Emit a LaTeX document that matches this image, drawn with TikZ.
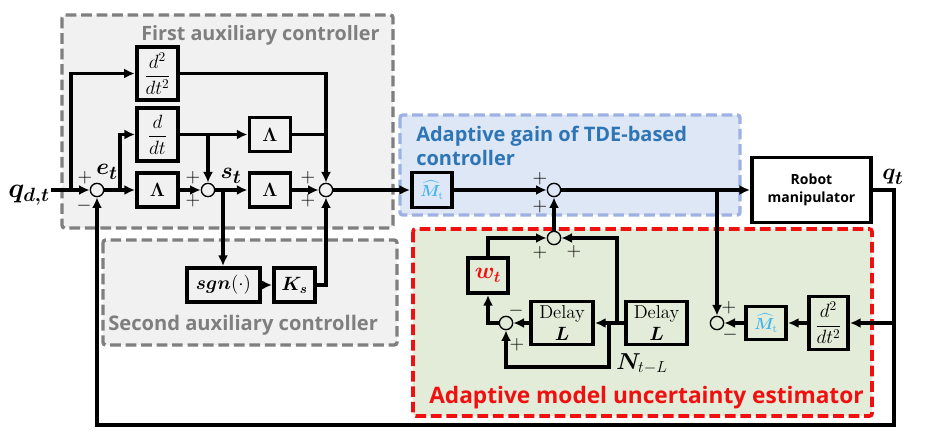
\documentclass[tikz,border=0pt]{standalone}
\usepackage{amsmath,bm}
\usepackage{fontspec}
\newfontfamily\lblfont{Open Sans}
\usetikzlibrary{arrows.meta}
\tikzset{
  x=0.75pt,y=-0.75pt,
  panel/.style={line width=2.5pt,dash pattern=on 8pt off 3.6pt,rounded corners=2pt},
  blockbox/.style 2 args={draw=black,fill=none,line width=2.9pt,inner sep=0pt,minimum width=#1*0.75pt,minimum height=#2*0.75pt,align=center},
  sumnode/.style={circle,draw=black,line width=1pt,minimum size=10pt,inner sep=0pt},
  wire/.style={line width=2.5pt,draw=black},
  arr/.style={wire,-{Latex[length=8pt,width=7.5pt]}},
  sgn/.style={inner sep=0pt,font=\fontsize{15}{15}\selectfont},
  title/.style={inner sep=0pt,anchor=west,font=\lblfont\bfseries\fontsize{14.8}{17}\selectfont},
  mathlbl/.style={inner sep=0pt},
  biglbl/.style={inner sep=0pt,font=\fontsize{19}{19}\selectfont},
  delaytext/.style={font=\fontsize{14}{15.5}\selectfont}
}
\definecolor{greyfill}{HTML}{F1F1F1}
\definecolor{greyline}{HTML}{7F7F7F}
\definecolor{bluefill}{HTML}{DEE7F5}
\definecolor{blueline}{HTML}{9DB2E2}
\definecolor{bluetext}{HTML}{2E75B6}
\definecolor{greenfill}{HTML}{E3ECD8}
\definecolor{redline}{HTML}{F01010}
\definecolor{mtext}{HTML}{3FB4EE}
\newcommand{\Mhat}{\textcolor{mtext}{\large$\widehat{\bm{M}}_{\mathrm{t}}$}}
\newcommand{\dsq}{\fontsize{14.5}{15}\selectfont$\dfrac{d^2}{dt^2}$}
\begin{document}
\begin{tikzpicture}
\useasboundingbox (0,0) rectangle (936,438);
% panels
\fill[white] (0,0) rectangle (936,438);
\path[panel,draw=greyline,fill=greyfill] (62,15) rectangle (393,228);
\path[panel,draw=greyline,fill=greyfill] (103,240) rectangle (397,345);
\path[panel,draw=blueline,fill=bluefill] (400,115) rectangle (740,215);
\path[panel,draw=redline,fill=greenfill,line width=2.8pt] (413,229) rectangle (872,416);
% titles
\node[title,text=greyline] (t1) at (141,35) {First auxiliary controller};
\node[title,text=greyline,font=\lblfont\bfseries\fontsize{15.1}{17}\selectfont] (t2) at (108,325) {Second auxiliary controller};
\node[title,text=bluetext,align=left,font=\lblfont\bfseries\fontsize{15}{18}\selectfont] (t3) at (416,146) {Adaptive gain of TDE-based\\controller};
\node[title,text=redline,font=\lblfont\bfseries\fontsize{17}{20}\selectfont] (t4) at (429,398) {Adaptive model uncertainty estimator};
% blocks
\node[blockbox={41}{53},line width=3.3pt] (dd) at (157.5,73.5) {\dsq};
\node[blockbox={41}{53}] (d) at (157.5,134.5) {\fontsize{14.5}{15}\selectfont$\dfrac{d}{dt}$};
\node[blockbox={41}{34}] (L1) at (157.5,190) {\Large$\bm{\Lambda}$};
\node[blockbox={41}{34}] (L2) at (270,134.5) {\Large$\bm{\Lambda}$};
\node[blockbox={41}{34}] (L3) at (270,190) {\Large$\bm{\Lambda}$};
\node[blockbox={73}{34}] (sg) at (223.5,285) {\Large$\bm{sgn}(\cdot)$};
\node[blockbox={41}{34}] (ks) at (294.5,285) {\Large$\bm{K_s}$};
\node[blockbox={40}{35}] (m1) at (432,190) {\Mhat};
\node[blockbox={119}{65},font=\lblfont\bfseries\fontsize{10.5}{13.5}\selectfont] (rb) at (811.5,190) {Robot\\manipulator};
\node[blockbox={40}{35},font=\LARGE] (wt) at (488,275.5) {\textcolor{redline}{$\bm{w_t}$}};
\node[blockbox={62}{43},delaytext] (dl1) at (562,323) {Delay\\[1pt]$\bm{L}$};
\node[blockbox={61}{43},delaytext] (dl2) at (656.5,323) {Delay\\[1pt]$\bm{L}$};
\node[blockbox={40}{33}] (m2) at (766,323) {\Mhat};
\node[blockbox={39}{53}] (dd2) at (828.5,323) {\dsq};
% summing junctions
\node[sumnode] (se) at (97,190) {};
\node[sumnode] (ss) at (208,190) {};
\node[sumnode] (sa) at (326,190) {};
\node[sumnode] (sb) at (554,190) {};
\node[sumnode] (sc) at (554,238) {};
\node[sumnode] (sd) at (506,323) {};
\node[sumnode] (sf) at (717,323) {};
% branch and free points
\coordinate (qin) at (51,190);
\coordinate (b1) at (71,190);
\coordinate (b2) at (120,190);
\coordinate (b3) at (208,134.5);
\coordinate (b4) at (326,134.5);
\coordinate (b5) at (223,190);
\coordinate (b6) at (717,190);
\coordinate (b7) at (894,190);
\coordinate (b8) at (894,323);
\coordinate (b9) at (617,323);
\coordinate (b10) at (609,323);
\coordinate (b11) at (97,425);
\coordinate (b12) at (506,367);
% wires
\draw[arr] (qin) -- (se);
\draw[arr] (b1) |- (dd.west);
\draw[arr] (b2) |- (d.west);
\draw[arr] (se) -- (L1);
\draw[arr] (L1) -- (ss);
\draw[arr] (ss) -- (L3);
\draw[arr] (L3) -- (sa);
\draw[arr] (d) -- (L2);
\draw[arr] (b3) -- (ss);
\draw[wire] (L2) -- (b4);
\draw[arr] (dd.east) -| (sa);
\draw[arr] (b5) -- (sg.north -| b5);
\draw[arr] (sg) -- (ks);
\draw[arr] (ks.east) -| (sa);
\draw[arr] (sa) -- (m1);
\draw[arr] (m1) -- (sb);
\draw[arr] (sb) -- (rb);
\draw[arr] (sc) -- (sb);
\draw[arr] (b6) -- (sf);
\draw[arr,line join=miter] (rb.east) -- (b7) |- (b11) -- (se);
\draw[arr] (b8) -- (dd2);
\draw[arr] (dd2) -- (m2);
\draw[arr] (m2) -- (sf);
\draw[arr] (dl2) -- (dl1);
\draw[arr] (dl1.west) -- (sd);
\draw[arr] (b9) |- (sc);
\draw[arr] (wt.north) |- (sc);
\draw[arr] (sd) -| (wt.south);
\draw[arr] (b10) |- (b12) -- (sd);
% signs
\node[sgn] (p1) at (85,178) {$+$};
\node[sgn] (p2) at (84,206) {$-$};
\node[sgn] (p3) at (193,178) {$+$};
\node[sgn] (p4) at (193,201) {$+$};
\node[sgn] (p5) at (308,178) {$+$};
\node[sgn] (p6) at (308,201) {$+$};
\node[sgn] (p7) at (540,179) {$+$};
\node[sgn] (p8) at (540,207) {$+$};
\node[sgn] (p9) at (540,253) {$+$};
\node[sgn] (p10) at (574,252) {$+$};
\node[sgn] (p11) at (516,311) {$-$};
\node[sgn] (p12) at (517,345) {$+$};
\node[sgn] (p13) at (729,308) {$+$};
\node[sgn] (p14) at (730,335) {$-$};
% signal labels
\node[mathlbl,font=\fontsize{20}{20}\selectfont] (qd) at (29,195) {$\bm{q_{d,t}}$};
\node[biglbl] (et) at (107,172) {$\bm{e_t}$};
\node[biglbl] (st) at (231,176) {$\bm{s_t}$};
\node[biglbl] (qt) at (893,177) {$\bm{q_t}$};
\node[mathlbl,font=\LARGE] (nt) at (642,364) {$\bm{N}_{t-L}$};
\end{tikzpicture}
\end{document}
